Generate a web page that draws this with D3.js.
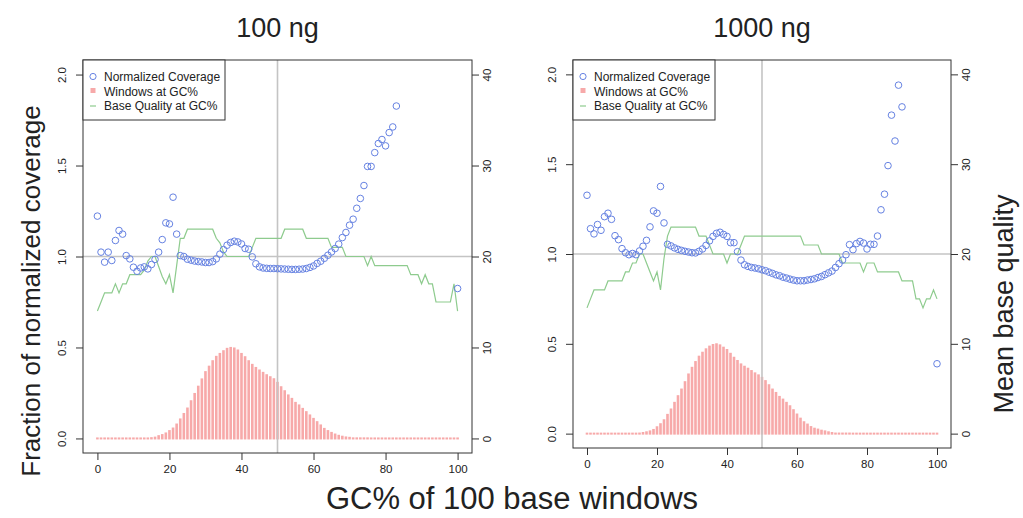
<!DOCTYPE html>
<html>
<head>
<meta charset="utf-8">
<script src="https://cdn.jsdelivr.net/npm/d3@7/dist/d3.min.js"></script>
<style>
body { margin: 0; background: #fff; }
text { font-family: "Liberation Sans", Arial, Helvetica, sans-serif; fill: #222; }
</style>
</head>
<body>
<script>
var width = 1023,
    height = 518;

// GC% categories 0..100
var gcPercent = d3.range(0, 101);

var xTicks = [0, 20, 40, 60, 80, 100],
    yTicks = [0, 0.5, 1, 1.5, 2],
    qTicks = [0, 10, 20, 30, 40];

var panelTitles = ['100 ng', '1000 ng'];
var legendLabels = ['Normalized Coverage', 'Windows at GC%', 'Base Quality at GC%'];

// windows at GC% (scaled to the coverage axis)
var windows100 = [
  0.004, 0.004, 0.004, 0.004, 0.004, 0.004, 0.004, 0.004, 0.004, 0.004,
  0.004, 0.005, 0.005, 0.005, 0.005, 0.007, 0.010, 0.018, 0.024, 0.033,
  0.046, 0.060, 0.082, 0.110, 0.140, 0.170, 0.210, 0.250, 0.290, 0.330,
  0.370, 0.400, 0.430, 0.454, 0.470, 0.485, 0.498, 0.503, 0.500, 0.489,
  0.470, 0.452, 0.430, 0.410, 0.393, 0.379, 0.366, 0.353, 0.342, 0.331,
  0.311, 0.287, 0.265, 0.242, 0.223, 0.201, 0.187, 0.168, 0.150, 0.132,
  0.113, 0.095, 0.077, 0.058, 0.046, 0.036, 0.027, 0.020, 0.015, 0.011,
  0.009, 0.006, 0.006, 0.006, 0.006, 0.006, 0.004, 0.004, 0.004, 0.004,
  0.004, 0.004, 0.004, 0.004, 0.004, 0.004, 0.004, 0.004, 0.004, 0.004,
  0.004, 0.004, 0.004, 0.004, 0.004, 0.004, 0.004, 0.004, 0.004, 0.004,
  0.004
];
var windows1000 = [
  0.004, 0.004, 0.004, 0.004, 0.004, 0.004, 0.004, 0.004, 0.004, 0.004,
  0.004, 0.005, 0.005, 0.005, 0.005, 0.006, 0.009, 0.013, 0.018, 0.026,
  0.041, 0.058, 0.080, 0.110, 0.140, 0.177, 0.214, 0.251, 0.292, 0.335,
  0.372, 0.404, 0.434, 0.456, 0.475, 0.490, 0.499, 0.503, 0.497, 0.484,
  0.471, 0.450, 0.428, 0.410, 0.391, 0.378, 0.367, 0.354, 0.341, 0.330,
  0.316, 0.298, 0.275, 0.251, 0.232, 0.210, 0.195, 0.177, 0.158, 0.136,
  0.112, 0.089, 0.069, 0.056, 0.042, 0.033, 0.028, 0.022, 0.018, 0.013,
  0.009, 0.006, 0.006, 0.006, 0.006, 0.006, 0.004, 0.004, 0.004, 0.004,
  0.004, 0.004, 0.004, 0.004, 0.004, 0.004, 0.004, 0.004, 0.004, 0.004,
  0.004, 0.004, 0.004, 0.004, 0.004, 0.004, 0.004, 0.004, 0.004, 0.004,
  0.004
];

// normalized coverage (null = no windows)
var coverage100 = [
  1.222, 1.024, 0.969, 1.024, 0.978, 1.088, 1.143, 1.123, 1.005, 0.987,
  0.941, 0.919, 0.937, 0.943, 0.932, 0.956, 0.984, 1.024, 1.093, 1.185,
  1.179, 1.326, 1.123, 1.005, 1.000, 0.985, 0.980, 0.975, 0.972, 0.970,
  0.967, 0.967, 0.972, 0.987, 1.013, 1.038, 1.062, 1.077, 1.084, 1.080,
  1.069, 1.044, 1.040, 0.998, 0.960, 0.943, 0.937, 0.935, 0.934, 0.934,
  0.933, 0.932, 0.931, 0.930, 0.929, 0.929, 0.930, 0.931, 0.934, 0.940,
  0.948, 0.962, 0.974, 0.990, 1.007, 1.025, 1.044, 1.068, 1.104, 1.132,
  1.172, 1.205, 1.265, 1.319, 1.390, 1.495, 1.495, 1.571, 1.621, 1.643,
  1.608, 1.681, 1.712, 1.827, null, null, null, null, null, null,
  null, null, null, null, null, null, null, null, null, null,
  0.824
];
var coverage1000 = [
  1.327, 1.141, 1.112, 1.164, 1.132, 1.208, 1.227, 1.193, 1.102, 1.080,
  1.030, 1.007, 0.996, 1.003, 0.996, 1.017, 1.043, 1.076, 1.151, 1.240,
  1.227, 1.376, 1.173, 1.054, 1.045, 1.034, 1.026, 1.020, 1.015, 1.011,
  1.007, 1.006, 1.015, 1.028, 1.048, 1.073, 1.098, 1.115, 1.121, 1.109,
  1.098, 1.063, 1.063, 1.013, 0.966, 0.940, 0.931, 0.925, 0.922, 0.918,
  0.912, 0.907, 0.899, 0.892, 0.884, 0.879, 0.871, 0.866, 0.860, 0.855,
  0.851, 0.851, 0.851, 0.855, 0.858, 0.862, 0.869, 0.875, 0.885, 0.895,
  0.905, 0.925, 0.946, 0.966, 0.996, 1.052, 1.024, 1.058, 1.070, 1.061,
  1.028, 1.054, 1.054, 1.100, 1.246, 1.333, 1.492, 1.773, 1.629, 1.940,
  1.819, null, null, null, null, null, null, null, null, null,
  0.389
];

// mean base quality at GC%
var quality100 = [
  14, 15, 16, 16, 16, 17, 16, 17, 17, 18,
  18, 18, 18, 18.5, 19.5, 20, 20, 18.9, 17.8, 17,
  18, 16, 19, 22, 22, 23, 23, 23, 23, 23,
  23, 23, 23, 22, 21.5, 20.5, 20, 20, 20, 20,
  20, 20, 20, 21, 22, 22, 22, 22, 22, 22,
  22, 22, 23, 23, 23, 23, 23, 23, 22, 22,
  22, 22, 22, 22, 22, 21, 21, 21, 21, 20,
  20, 20, 20, 20, 20, 19, 20, 19, 19, 19,
  19, 19, 19, 19, 19, 19, 19, 18, 18, 18,
  17, 18, 17, 17, 15, 15, 15, 15, 15, 17,
  14
];
var quality1000 = [
  14, 15, 16, 16, 16, 16, 17, 17, 17, 17,
  17, 18, 18, 19, 19, 20, 20, 19, 18, 17,
  18, 16, 19.5, 22, 23, 23, 23, 23, 23, 23,
  23, 23, 22, 22, 22, 21, 20, 20, 20, 20,
  19, 20, 20, 20, 21, 22, 22, 22, 22, 22,
  22, 22, 22, 22, 22, 22, 22, 22, 22, 22,
  22, 22, 21, 21, 21, 21, 21, 20, 20, 20,
  20, 20, 20, 19, 19, 19, 19, 19, 19, 18,
  19, 19, 19, 18, 18, 18, 18, 18, 18, 18,
  17, 17, 17, 17, 15, 15, 14, 15, 15, 16,
  15
];

var svg = d3.select('body').append('svg')
    .attr('width', width)
    .attr('height', height);

var boxColor = '#333',
    pointColor = '#6682e2',
    barColor = '#f7a9a9',
    qualColor = '#8ecb8e',
    refColor = '#c4c4c4';

function drawPanel(box, title, windows, coverage, quality) {
  var xScale = d3.scaleLinear().domain([-4, 104]).range([box.left, box.right]),
      yScale = d3.scaleLinear().domain([-0.08, 2.08]).range([box.bottom, box.top]),
      qScale = d3.scaleLinear().domain([-1.6, 41.6]).range([box.bottom, box.top]);

  var g = svg.append('g');

  // windows at GC% as thin vertical bars
  g.selectAll('.bar')
    .data(gcPercent)
    .enter().append('rect')
    .attr('class', 'bar')
    .attr('x', function(d) { return xScale(d) - 1.3; })
    .attr('width', 2.6)
    .attr('y', function(d) {
      return Math.min(yScale(windows[d]), yScale(0) - 1);
    })
    .attr('height', function(d) {
      return Math.max(yScale(0) + 1 - yScale(windows[d]), 2);
    })
    .attr('fill', barColor);

  // reference lines at GC 50% and coverage 1.0
  g.append('line')
    .attr('x1', xScale(50)).attr('x2', xScale(50))
    .attr('y1', box.top).attr('y2', box.bottom)
    .attr('stroke', refColor).attr('stroke-width', 1.6);
  g.append('line')
    .attr('x1', box.left).attr('x2', box.right)
    .attr('y1', yScale(1)).attr('y2', yScale(1))
    .attr('stroke', refColor).attr('stroke-width', 1.6);

  // base quality line
  var line = d3.line()
    .x(function(d) { return xScale(d); })
    .y(function(d) { return qScale(quality[d]); });
  g.append('path')
    .datum(gcPercent)
    .attr('d', line)
    .attr('fill', 'none')
    .attr('stroke', qualColor)
    .attr('stroke-width', 1.2);

  // normalized coverage points
  g.selectAll('.pt')
    .data(gcPercent.filter(function(d) { return coverage[d] !== null; }))
    .enter().append('circle')
    .attr('class', 'pt')
    .attr('cx', function(d) { return xScale(d); })
    .attr('cy', function(d) { return yScale(coverage[d]); })
    .attr('r', 3.3)
    .attr('fill', 'none')
    .attr('stroke', pointColor)
    .attr('stroke-width', 1);

  // axes
  var xAxis = g.append('g')
    .attr('transform', 'translate(0,' + box.bottom + ')')
    .call(d3.axisBottom(xScale).tickValues(xTicks).tickSize(7).tickSizeOuter(0).tickPadding(5));
  var yAxis = g.append('g')
    .attr('transform', 'translate(' + box.left + ',0)')
    .call(d3.axisLeft(yScale).tickValues(yTicks).tickSize(7).tickSizeOuter(0)
      .tickFormat(d3.format('.1f')));
  var qAxis = g.append('g')
    .attr('transform', 'translate(' + box.right + ',0)')
    .call(d3.axisRight(qScale).tickValues(qTicks).tickSize(7).tickSizeOuter(0));

  [xAxis, yAxis, qAxis].forEach(function(a) {
    a.select('.domain').remove();
    a.selectAll('line').attr('stroke', boxColor);
    a.selectAll('text').attr('font-size', 11.5).attr('fill', '#222')
      .attr('font-family', '"Liberation Sans", Arial, sans-serif');
  });

  // rotated y tick labels, as in R with las = 0
  yAxis.selectAll('text')
    .attr('x', 0).attr('dy', 0)
    .attr('text-anchor', 'middle')
    .attr('transform', 'translate(-17,0) rotate(-90)');
  qAxis.selectAll('text')
    .attr('x', 0).attr('dy', 0)
    .attr('text-anchor', 'middle')
    .attr('transform', 'translate(19,0) rotate(-90)');

  // plot box
  g.append('rect')
    .attr('x', box.left).attr('y', box.top)
    .attr('width', box.right - box.left)
    .attr('height', box.bottom - box.top)
    .attr('fill', 'none')
    .attr('stroke', boxColor)
    .attr('stroke-width', 1);

  // legend
  var lg = g.append('g')
    .attr('transform', 'translate(' + box.left + ',' + box.top + ')');
  lg.append('rect')
    .attr('width', 142).attr('height', 60)
    .attr('fill', '#fff')
    .attr('stroke', boxColor);
  lg.append('circle')
    .attr('cx', 10).attr('cy', 16.5).attr('r', 3.1)
    .attr('fill', 'none').attr('stroke', pointColor);
  lg.append('rect')
    .attr('x', 7.5).attr('y', 28).attr('width', 5).attr('height', 5)
    .attr('fill', barColor);
  lg.append('line')
    .attr('x1', 7).attr('x2', 13).attr('y1', 46).attr('y2', 46)
    .attr('stroke', qualColor).attr('stroke-width', 1.2);
  lg.selectAll('.lg-text')
    .data(legendLabels)
    .enter().append('text')
    .attr('class', 'lg-text')
    .attr('x', 21)
    .attr('y', function(d, i) { return 21 + i * 14.5; })
    .attr('font-size', 12)
    .text(function(d) { return d; });

  // panel title
  svg.append('text')
    .attr('x', xScale(50))
    .attr('y', 37)
    .attr('text-anchor', 'middle')
    .attr('font-size', 27)
    .text(title);
}

drawPanel({ left: 83, right: 472, top: 60, bottom: 453 }, panelTitles[0],
  windows100, coverage100, quality100);
drawPanel({ left: 573, right: 951, top: 60, bottom: 448 }, panelTitles[1],
  windows1000, coverage1000, quality1000);

// shared axis titles
svg.append('text')
  .attr('x', 512)
  .attr('y', 509)
  .attr('text-anchor', 'middle')
  .attr('font-size', 31)
  .text('GC% of 100 base windows');

svg.append('text')
  .attr('transform', 'translate(40,291) rotate(-90)')
  .attr('text-anchor', 'middle')
  .attr('font-size', 26)
  .text('Fraction of normalized coverage');

svg.append('text')
  .attr('transform', 'translate(1013,304) rotate(-90)')
  .attr('text-anchor', 'middle')
  .attr('font-size', 27)
  .text('Mean base quality');
</script>
</body>
</html>
